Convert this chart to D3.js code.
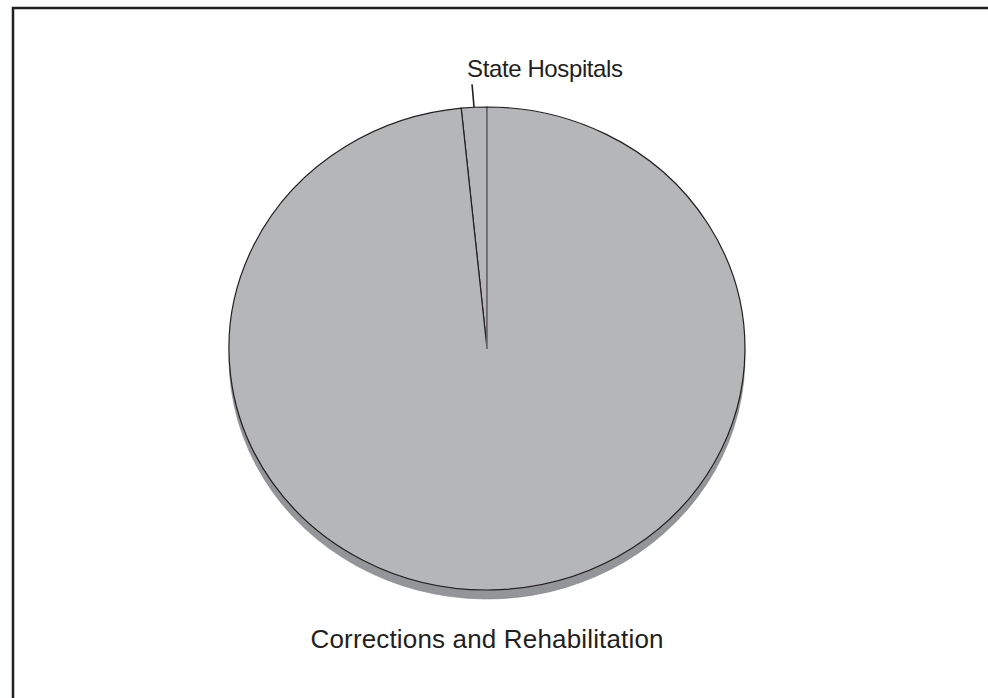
<!DOCTYPE html>
<html>
<head>
<meta charset="utf-8">
<script src="https://cdn.jsdelivr.net/npm/d3@7"></script>
<style>
  body { margin: 0; background: #fff; }
  svg text { font-family: "Liberation Sans", Arial, Helvetica, sans-serif; fill: #231f20; }
</style>
</head>
<body>
<svg id="chart" width="988" height="698"></svg>
<script>
const categories = ["State Hospitals", "Corrections and Rehabilitation"];
const values = [1.6, 98.4];

const W = 988, H = 698;
const cx = 487, cy = 348.5, rx = 258, ry = 241.5, depth = 9;
const topFill = "#b5b6b8";
const sideFill = "#939598";
const ink = "#231f20";

const svg = d3.select("#chart");

// frame (runs off the right and bottom edges)
svg.append("rect")
  .attr("x", 13).attr("y", 8)
  .attr("width", W).attr("height", H)
  .attr("fill", "none")
  .attr("stroke", ink)
  .attr("stroke-width", 2.5);

const data = categories.map((name, i) => ({ name, value: values[i] }));

// State Hospitals sits just left of 12 o'clock, corrections takes the rest
const startA = -2 * Math.PI * values[0] / d3.sum(values);
const pie = d3.pie()
  .value((d) => d.value)
  .sort(null)
  .startAngle(startA)
  .endAngle(startA + 2 * Math.PI);

const arcs = pie(data);
const arc = d3.arc().innerRadius(0).outerRadius(1);

// side of the tilted disc
const sideG = svg.append("g")
  .attr("transform", `translate(${cx},${cy + depth}) scale(${rx},${ry})`);
sideG.selectAll("path")
  .data(arcs)
  .join("path")
  .attr("d", arc)
  .attr("fill", sideFill)
  .attr("stroke", "#808285")
  .attr("stroke-width", 0.6)
  .attr("vector-effect", "non-scaling-stroke");

// top face
const faceG = svg.append("g")
  .attr("transform", `translate(${cx},${cy}) scale(${rx},${ry})`);
faceG.selectAll("path")
  .data(arcs)
  .join("path")
  .attr("d", arc)
  .attr("fill", topFill)
  .attr("stroke", ink)
  .attr("stroke-width", 1.2)
  .attr("stroke-linejoin", "round")
  .attr("vector-effect", "non-scaling-stroke");

// the 12 o'clock edge reads lighter in the original
const a0 = arcs[0].endAngle;
svg.append("line")
  .attr("x1", cx).attr("y1", cy)
  .attr("x2", cx + rx * Math.sin(a0))
  .attr("y2", cy - ry * Math.cos(a0) + 1)
  .attr("stroke", "#8a8b8e")
  .attr("stroke-width", 1.2);

// State Hospitals label with leader line
const s = arcs[0];
const mid = (s.startAngle + s.endAngle) / 2;
const ex = cx + rx * Math.sin(mid), ey = cy - ry * Math.cos(mid);
svg.append("line")
  .attr("x1", ex).attr("y1", ey)
  .attr("x2", ex - 2).attr("y2", ey - 23)
  .attr("stroke", ink)
  .attr("stroke-width", 1.6);
svg.append("text")
  .attr("x", ex - 7)
  .attr("y", ey - 30)
  .attr("font-size", 24)
  .attr("textLength", 156)
  .attr("lengthAdjust", "spacing")
  .text(s.data.name);

// Corrections label under the pie
svg.append("text")
  .attr("x", cx)
  .attr("y", cy + ry + depth + 49)
  .attr("text-anchor", "middle")
  .attr("font-size", 26)
  .attr("textLength", 353)
  .attr("lengthAdjust", "spacing")
  .text(arcs[1].data.name);
</script>
</body>
</html>
